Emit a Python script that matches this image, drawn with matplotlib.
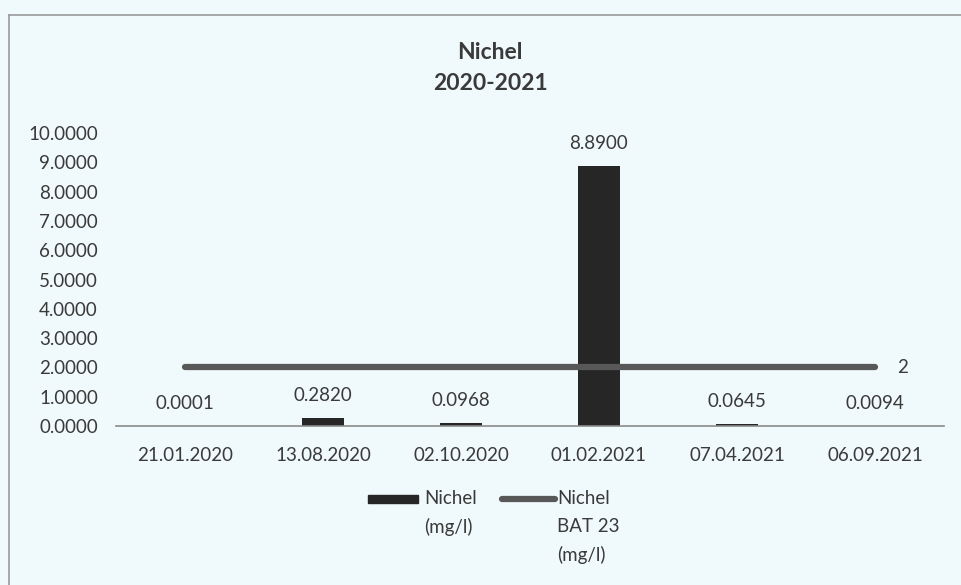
import matplotlib.pyplot as plt
from matplotlib.patches import Rectangle
from matplotlib.lines import Line2D
import numpy as np

# data
dates = ['21.01.2020', '13.08.2020', '02.10.2020', '01.02.2021', '07.04.2021', '06.09.2021']
nichel = [0.0001, 0.2820, 0.0968, 8.8900, 0.0645, 0.0094]
bat_limit = [2, 2, 2, 2, 2, 2]
yticks = [0, 1, 2, 3, 4, 5, 6, 7, 8, 9, 10]

plt.rcParams['font.family'] = ['Lato', 'DejaVu Sans']
txt = '#3a3a3a'
bg = '#f0f9fb'
fs = 13.5

fig = plt.figure(figsize=(9.61, 5.85), dpi=100, facecolor=bg)
ax = fig.add_axes([0.1207, 0.2718, 0.8616, 0.5008], facecolor=bg)

x = np.arange(len(dates))
ax.bar(x, nichel, width=0.31, color='#262626', zorder=2)
ax.plot(x, bat_limit, color='#585858', lw=4.5, solid_capstyle='round', zorder=3)

# data labels
for xi, v in zip(x, nichel):
    ax.annotate(f'{v:.4f}', (xi, v), xytext=(0, 10), textcoords='offset points',
                ha='center', va='bottom', fontsize=fs, color=txt)
ax.annotate(f'{bat_limit[-1]}', (x[-1], bat_limit[-1]), xytext=(16, 0),
            textcoords='offset points', ha='left', va='center', fontsize=fs, color=txt)

ax.set_xlim(-0.5, len(dates) - 0.5)
ax.set_ylim(0, 10)
ax.set_xticks(x)
ax.set_xticklabels(dates)
ax.set_yticks(yticks)
ax.set_yticklabels([f'{t:.4f}' for t in yticks])
ax.tick_params(axis='both', length=0, labelsize=fs, colors=txt)
ax.tick_params(axis='x', pad=15)
ax.tick_params(axis='y', pad=13)
for s in ['top', 'right', 'left']:
    ax.spines[s].set_visible(False)
ax.spines['bottom'].set_color('#8a8a8a')
ax.spines['bottom'].set_linewidth(1.2)

# title
fig.text(0.51, 0.911, 'Nichel', ha='center', va='center', fontsize=16.5,
         fontweight='bold', color=txt)
fig.text(0.51, 0.858, '2020-2021', ha='center', va='center', fontsize=16.5,
         fontweight='bold', color=txt)

# legend drawn by hand so the handles line up with the first text line
fig.patches.append(Rectangle((368 / 961, 1 - 503 / 585), 50 / 961, 8 / 585,
                             transform=fig.transFigure, color='#262626'))
fig.text(424 / 961, 1 - 490 / 585, 'Nichel\n(mg/l)', ha='left', va='top',
         fontsize=fs, color=txt, linespacing=1.75)
fig.lines.append(Line2D([502 / 961, 555 / 961], [1 - 499 / 585, 1 - 499 / 585],
                        transform=fig.transFigure, color='#585858', lw=4.5,
                        solid_capstyle='round'))
fig.text(557 / 961, 1 - 490 / 585, 'Nichel\nBAT 23\n(mg/l)', ha='left', va='top',
         fontsize=fs, color=txt, linespacing=1.75)

# chart border (left and top visible in the scan)
fig.lines.append(Line2D([9 / 961, 9 / 961], [0, 1 - 15 / 585], transform=fig.transFigure,
                        color='#9a9a9a', lw=1.2))
fig.lines.append(Line2D([9 / 961, 1], [1 - 15 / 585, 1 - 15 / 585], transform=fig.transFigure,
                        color='#9a9a9a', lw=1.2))

fig.savefig('out.png', dpi=100, facecolor=bg)
